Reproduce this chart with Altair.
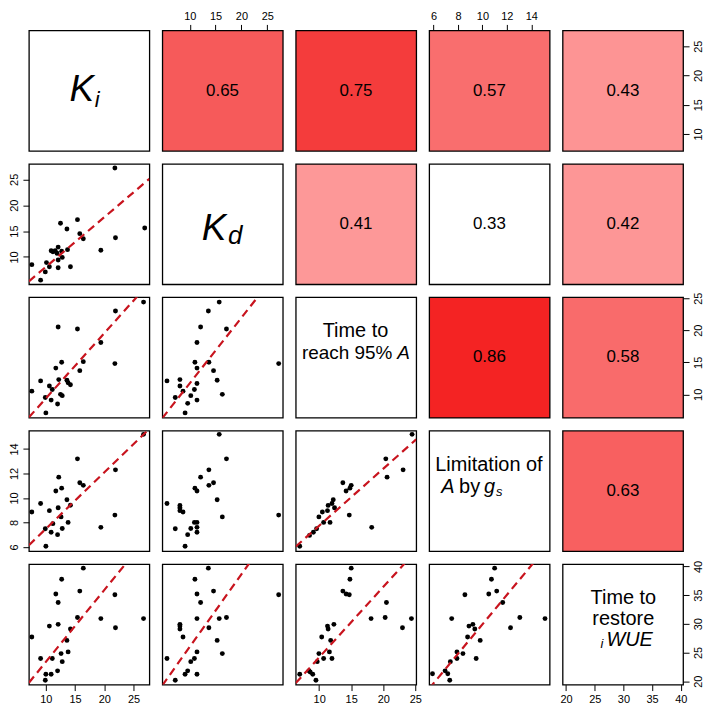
import altair as alt
import pandas as pd

FONT = "Liberation Sans"
W = H = 121
GAP = 13

# ---------------- variables ----------------
var_keys = ["Ki", "Kd", "T95", "Lim", "Restore"]
var_domains = [[7.1, 27.7], [4.7, 28.0], [6.35, 25.15], [5.65, 15.5], [19.4, 40.4]]
var_ticks = [[10, 15, 20, 25], [10, 15, 20, 25], [10, 15, 20, 25],
             [6, 8, 10, 12, 14], [20, 25, 30, 35, 40]]

# ---------------- correlations (upper panels) ----------------
corr_pairs = [(0, 1), (0, 2), (0, 3), (0, 4), (1, 2), (1, 3), (1, 4), (2, 3), (2, 4), (3, 4)]
corr_values = [0.65, 0.75, 0.57, 0.43, 0.41, 0.33, 0.42, 0.86, 0.58, 0.63]
corr_fills = ["#F65A5A", "#F43C3C", "#F96E6E", "#FD9494", "#FD9898",
              "#FFFFFF", "#FD9696", "#F42323", "#F96B6B", "#F86060"]

# ---------------- scatter data (lower panels) ----------------
# row 2: Kd vs Ki
kd_ki_x = [7.6, 9.1, 9.9, 10.1, 10.6, 10.9, 11.2, 11.6, 11.9, 12.1, 12.1, 12.1, 12.5,
           12.7, 12.8, 13.6, 13.7, 14.2, 15.4, 15.8, 16.4, 19.4, 21.8, 21.9, 26.9]
kd_ki_y = [8.5, 5.5, 7.1, 8.9, 8.1, 11.2, 11.0, 11.2, 10.7, 11.9, 9.4, 7.9, 16.5,
           11.1, 9.9, 15.4, 11.4, 8.1, 17.2, 14.5, 13.5, 11.3, 27.2, 13.7, 15.6]
# row 3: T95 vs Ki
t95_ki_x = [7.6, 9.1, 9.9, 10.0, 10.6, 10.9, 11.1, 11.7, 12.0, 12.1, 12.2, 12.5,
            12.7, 12.8, 13.6, 13.8, 14.2, 15.4, 15.8, 16.4, 19.4, 21.8, 21.9, 26.7]
t95_ki_y = [10.5, 12.1, 9.5, 7.1, 11.3, 9.1, 10.75, 14.1, 8.5, 20.5, 12.3, 10.0,
            15.0, 9.8, 12.2, 11.8, 11.5, 20.2, 13.7, 15.1, 18.1, 14.8, 23.0, 24.4]
# row 3: T95 vs Kd
t95_kd_x = [5.6, 7.2, 8.1, 8.1, 8.7, 9.1, 9.6, 10.2, 10.9, 11.0, 11.4, 11.4,
            11.4, 11.4, 12.1, 13.6, 13.7, 14.6, 15.3, 15.7, 16.3, 17.1, 27.2]
t95_kd_y = [12.1, 9.5, 12.3, 11.3, 10.5, 7.1, 8.6, 9.8, 10.75, 15.0, 14.1, 11.7,
            9.1, 18.1, 20.5, 23.0, 15.0, 13.7, 12.2, 24.4, 10.0, 20.2, 14.8]
# row 4: Lim vs Ki
lim_ki_x = [7.6, 9.1, 10.0, 9.9, 10.6, 10.9, 11.2, 11.7, 12.0, 12.2, 12.1, 12.6,
            12.7, 12.8, 13.6, 13.8, 14.2, 15.4, 15.8, 16.4, 19.4, 21.8, 21.9, 26.7]
lim_ki_y = [8.85, 9.55, 6.05, 7.48, 8.96, 7.2, 7.9, 10.57, 7.0, 11.7, 9.2, 8.45,
            10.8, 7.5, 9.85, 8.0, 9.4, 13.2, 11.24, 11.03, 7.6, 8.6, 12.3, 15.2]
# row 4: Lim vs Kd
lim_kd_x = [5.6, 7.2, 8.1, 8.1, 8.1, 8.7, 9.1, 9.6, 10.2, 10.9, 11.4, 11.4,
            11.4, 11.0, 11.4, 12.1, 13.7, 13.7, 14.6, 15.3, 15.7, 16.3, 17.1, 27.2]
lim_kd_y = [9.55, 7.48, 9.39, 9.2, 8.96, 8.85, 6.05, 7.0, 7.5, 8.0, 8.0, 7.6,
            7.2, 10.8, 10.57, 11.7, 12.3, 11.03, 11.24, 9.85, 15.2, 8.45, 13.2, 8.6]
# row 4: Lim vs T95
lim_t95_x = [6.97, 8.5, 9.1, 9.6, 9.96, 10.5, 10.7, 11.3, 11.4, 11.7, 12.0, 12.2,
             12.4, 13.7, 14.2, 14.7, 14.8, 15.0, 18.2, 20.4, 20.6, 23.1, 24.5]
lim_t95_y = [6.05, 6.94, 7.2, 7.48, 8.45, 8.85, 8.0, 8.96, 9.39, 8.0, 9.55, 9.85,
             9.2, 11.24, 10.57, 8.6, 10.8, 11.03, 7.6, 13.2, 11.7, 12.3, 15.2]
# row 5: Restore vs Ki
res_ki_x = [7.6, 9.1, 10.0, 9.9, 10.9, 10.6, 11.1, 11.7, 12.1, 12.1, 12.0, 12.6,
            12.7, 12.8, 13.6, 13.8, 14.2, 15.4, 15.8, 16.4, 19.4, 21.8, 21.9, 26.7]
res_ki_y = [27.7, 23.95, 21.2, 20.15, 21.2, 29.6, 23.95, 35.2, 33.7, 29.9, 21.8, 24.8,
            37.75, 23.4, 27.1, 25.1, 29.1, 31.1, 35.7, 39.7, 30.9, 35.05, 29.3, 30.9]
# row 5: Restore vs Kd
res_kd_x = [5.6, 7.2, 8.1, 8.1, 8.1, 8.7, 9.1, 9.6, 10.2, 10.9, 11.0, 11.4,
            11.4, 11.4, 11.4, 12.1, 13.6, 13.7, 14.6, 15.3, 15.7, 16.3, 17.1, 27.2]
res_kd_y = [23.95, 20.15, 29.9, 29.6, 29.1, 27.7, 21.2, 21.8, 23.4, 23.95, 37.75, 35.2,
            30.9, 25.1, 21.2, 33.7, 39.7, 29.3, 35.7, 27.1, 30.9, 24.8, 31.1, 35.05]
# row 5: Restore vs T95
res_t95_x = [6.97, 8.4, 8.6, 9.0, 9.5, 9.7, 9.96, 10.7, 10.4, 11.3, 11.4, 11.6, 12.0,
             12.3, 11.8, 13.7, 14.2, 14.7, 14.8, 15.0, 18.1, 20.3, 20.5, 23.0, 24.4]
res_t95_y = [21.2, 21.8, 21.6, 21.2, 20.15, 23.4, 24.8, 23.95, 27.7, 29.6, 29.1, 25.1, 23.95,
             29.9, 27.1, 35.7, 35.2, 35.05, 37.75, 39.7, 30.9, 31.1, 33.7, 29.3, 30.9]
# row 5: Restore vs Lim
res_lim_x = [5.92, 6.95, 7.17, 7.33, 7.38, 7.49, 7.92, 7.92, 8.41, 8.57, 8.79, 8.9,
             9.22, 9.38, 9.49, 9.82, 10.52, 10.74, 11.0, 11.17, 11.66, 12.3, 13.06, 15.12]
res_lim_y = [21.3, 21.8, 21.3, 20.15, 23.4, 30.9, 25.1, 23.95, 24.8, 35.05, 27.7, 29.6,
             29.9, 29.1, 23.95, 27.1, 35.2, 37.75, 39.7, 35.7, 33.7, 29.3, 31.1, 30.9]

scatter_panels = {
    (1, 0): (kd_ki_x, kd_ki_y),
    (2, 0): (t95_ki_x, t95_ki_y),
    (2, 1): (t95_kd_x, t95_kd_y),
    (3, 0): (lim_ki_x, lim_ki_y),
    (3, 1): (lim_kd_x, lim_kd_y),
    (3, 2): (lim_t95_x, lim_t95_y),
    (4, 0): (res_ki_x, res_ki_y),
    (4, 1): (res_kd_x, res_kd_y),
    (4, 2): (res_t95_x, res_t95_y),
    (4, 3): (res_lim_x, res_lim_y),
}

# fitted lines (intercept, slope) for the significant pairs
line_panels = [(1, 0), (2, 0), (3, 0), (4, 0), (2, 1), (4, 1), (3, 2), (4, 2), (4, 3)]
line_intercepts = [-1.55, -0.81, 2.86, 10.82, 1.48, 13.33, 3.07, 11.86, 4.19]
line_slopes = [0.962, 1.018, 0.462, 1.254, 1.024, 1.265, 0.466, 1.228, 2.57]

LINE_COLOR = "#C8141E"


def axis(orient, ticks):
    angle = 270 if orient in ("left", "right") else 0
    return alt.Axis(orient=orient, values=ticks, title=None, grid=False, domain=False,
                    tickSize=6, tickColor="black", tickWidth=1,
                    labelFont=FONT, labelFontSize=11, labelColor="black",
                    labelPadding=3, labelAngle=angle, labelFlush=False,
                    labelOverlap=False)


def scale(i):
    return alt.Scale(domain=var_domains[i], nice=False, zero=False)


def text(t, x, y, size, italic=False, align="center", baseline="middle"):
    return alt.Chart(pd.DataFrame({"t": [t]})).mark_text(
        font=FONT, fontSize=size, fontStyle="italic" if italic else "normal",
        align=align, baseline=baseline, color="black"
    ).encode(text="t:N", x=alt.value(x), y=alt.value(y))


def axes_for(r, c):
    """which outer axes a panel carries (pairs() style alternating)."""
    x_ax = None
    y_ax = None
    if r == 4 and c in (0, 2, 4):
        x_ax = axis("bottom", var_ticks[c])
    if r == 0 and c in (1, 3):
        x_ax = axis("top", var_ticks[c])
    if c == 0 and r in (1, 3):
        y_ax = axis("left", var_ticks[r])
    if c == 4 and r in (0, 2, 4):
        y_ax = axis("right", var_ticks[r])
    return x_ax, y_ax


def axis_layer(r, c):
    x_ax, y_ax = axes_for(r, c)
    layers = []
    if x_ax is not None:
        d = pd.DataFrame({"v": var_domains[c]})
        layers.append(alt.Chart(d).mark_point(opacity=0).encode(
            x=alt.X("v:Q", scale=scale(c), axis=x_ax)))
    if y_ax is not None:
        d = pd.DataFrame({"v": var_domains[r]})
        layers.append(alt.Chart(d).mark_point(opacity=0).encode(
            y=alt.Y("v:Q", scale=scale(r), axis=y_ax)))
    return layers


def diag_layers(i):
    if i == 0:
        return [text("K", 53, 71, 37, True, "center", "alphabetic"),
                text("i", 66, 77, 22, True, "left", "alphabetic")]
    if i == 1:
        return [text("K", 52, 76, 37, True, "center", "alphabetic"),
                text("d", 66, 81, 26, True, "left", "alphabetic")]
    if i == 2:
        return [text("Time to", 60, 34, 20),
                text("reach 95%", 97, 56, 19, False, "right"),
                text("A", 102, 56, 19, True, "left")]
    if i == 3:
        return [text("Limitation of", 60, 34, 20),
                text("A", 12, 57, 20, True, "left"),
                text("by", 30, 57, 20, False, "left"),
                text("g", 55, 57, 20, True, "left"),
                text("s", 67, 62, 13, True, "left")]
    return [text("Time to", 61, 34, 20),
            text("restore", 61, 55, 20),
            text("i", 38, 80, 13, True, "left"),
            text("WUE", 44, 76, 20, True, "left")]


panels = []
for r in range(5):
    for c in range(5):
        layers = []
        fill = "white"
        if r == c:
            layers += diag_layers(r)
            layers += axis_layer(r, c)
        elif r < c:
            k = corr_pairs.index((r, c))
            fill = corr_fills[k]
            layers.append(alt.Chart(pd.DataFrame({"v": [corr_values[k]]})).mark_text(
                font=FONT, fontSize=17, color="black", align="center", baseline="middle"
            ).encode(text=alt.Text("v:Q", format=".2f"), x=alt.value(W / 2), y=alt.value(H / 2)))
            layers += axis_layer(r, c)
        else:
            xs, ys = scatter_panels[(r, c)]
            x_ax, y_ax = axes_for(r, c)
            df = pd.DataFrame({"x": xs, "y": ys})
            layers.append(alt.Chart(df).mark_circle(size=24, color="black", opacity=1).encode(
                x=alt.X("x:Q", scale=scale(c), axis=x_ax),
                y=alt.Y("y:Q", scale=scale(r), axis=y_ax)))
            if (r, c) in line_panels:
                k = line_panels.index((r, c))
                x0, x1 = var_domains[c]
                ld = pd.DataFrame({"x": [x0, x1],
                                   "y": [line_intercepts[k] + line_slopes[k] * x0,
                                         line_intercepts[k] + line_slopes[k] * x1]})
                layers.append(alt.Chart(ld).mark_line(
                    color=LINE_COLOR, strokeWidth=2.2, strokeDash=[8, 5], clip=True
                ).encode(x=alt.X("x:Q", scale=scale(c), axis=x_ax),
                         y=alt.Y("y:Q", scale=scale(r), axis=y_ax)))
        panel = alt.layer(*layers).properties(
            width=W, height=H,
            view=alt.ViewBackground(fill=fill, stroke="black", strokeWidth=1.3))
        panels.append(panel)

chart = alt.concat(*panels, columns=5, spacing=GAP, bounds="flush").resolve_scale(
    x="independent", y="independent").properties(padding=0).configure_view(
    stroke="black", strokeWidth=1.3)

chart.save("out.html", embed_options={"renderer": "svg", "actions": False})
